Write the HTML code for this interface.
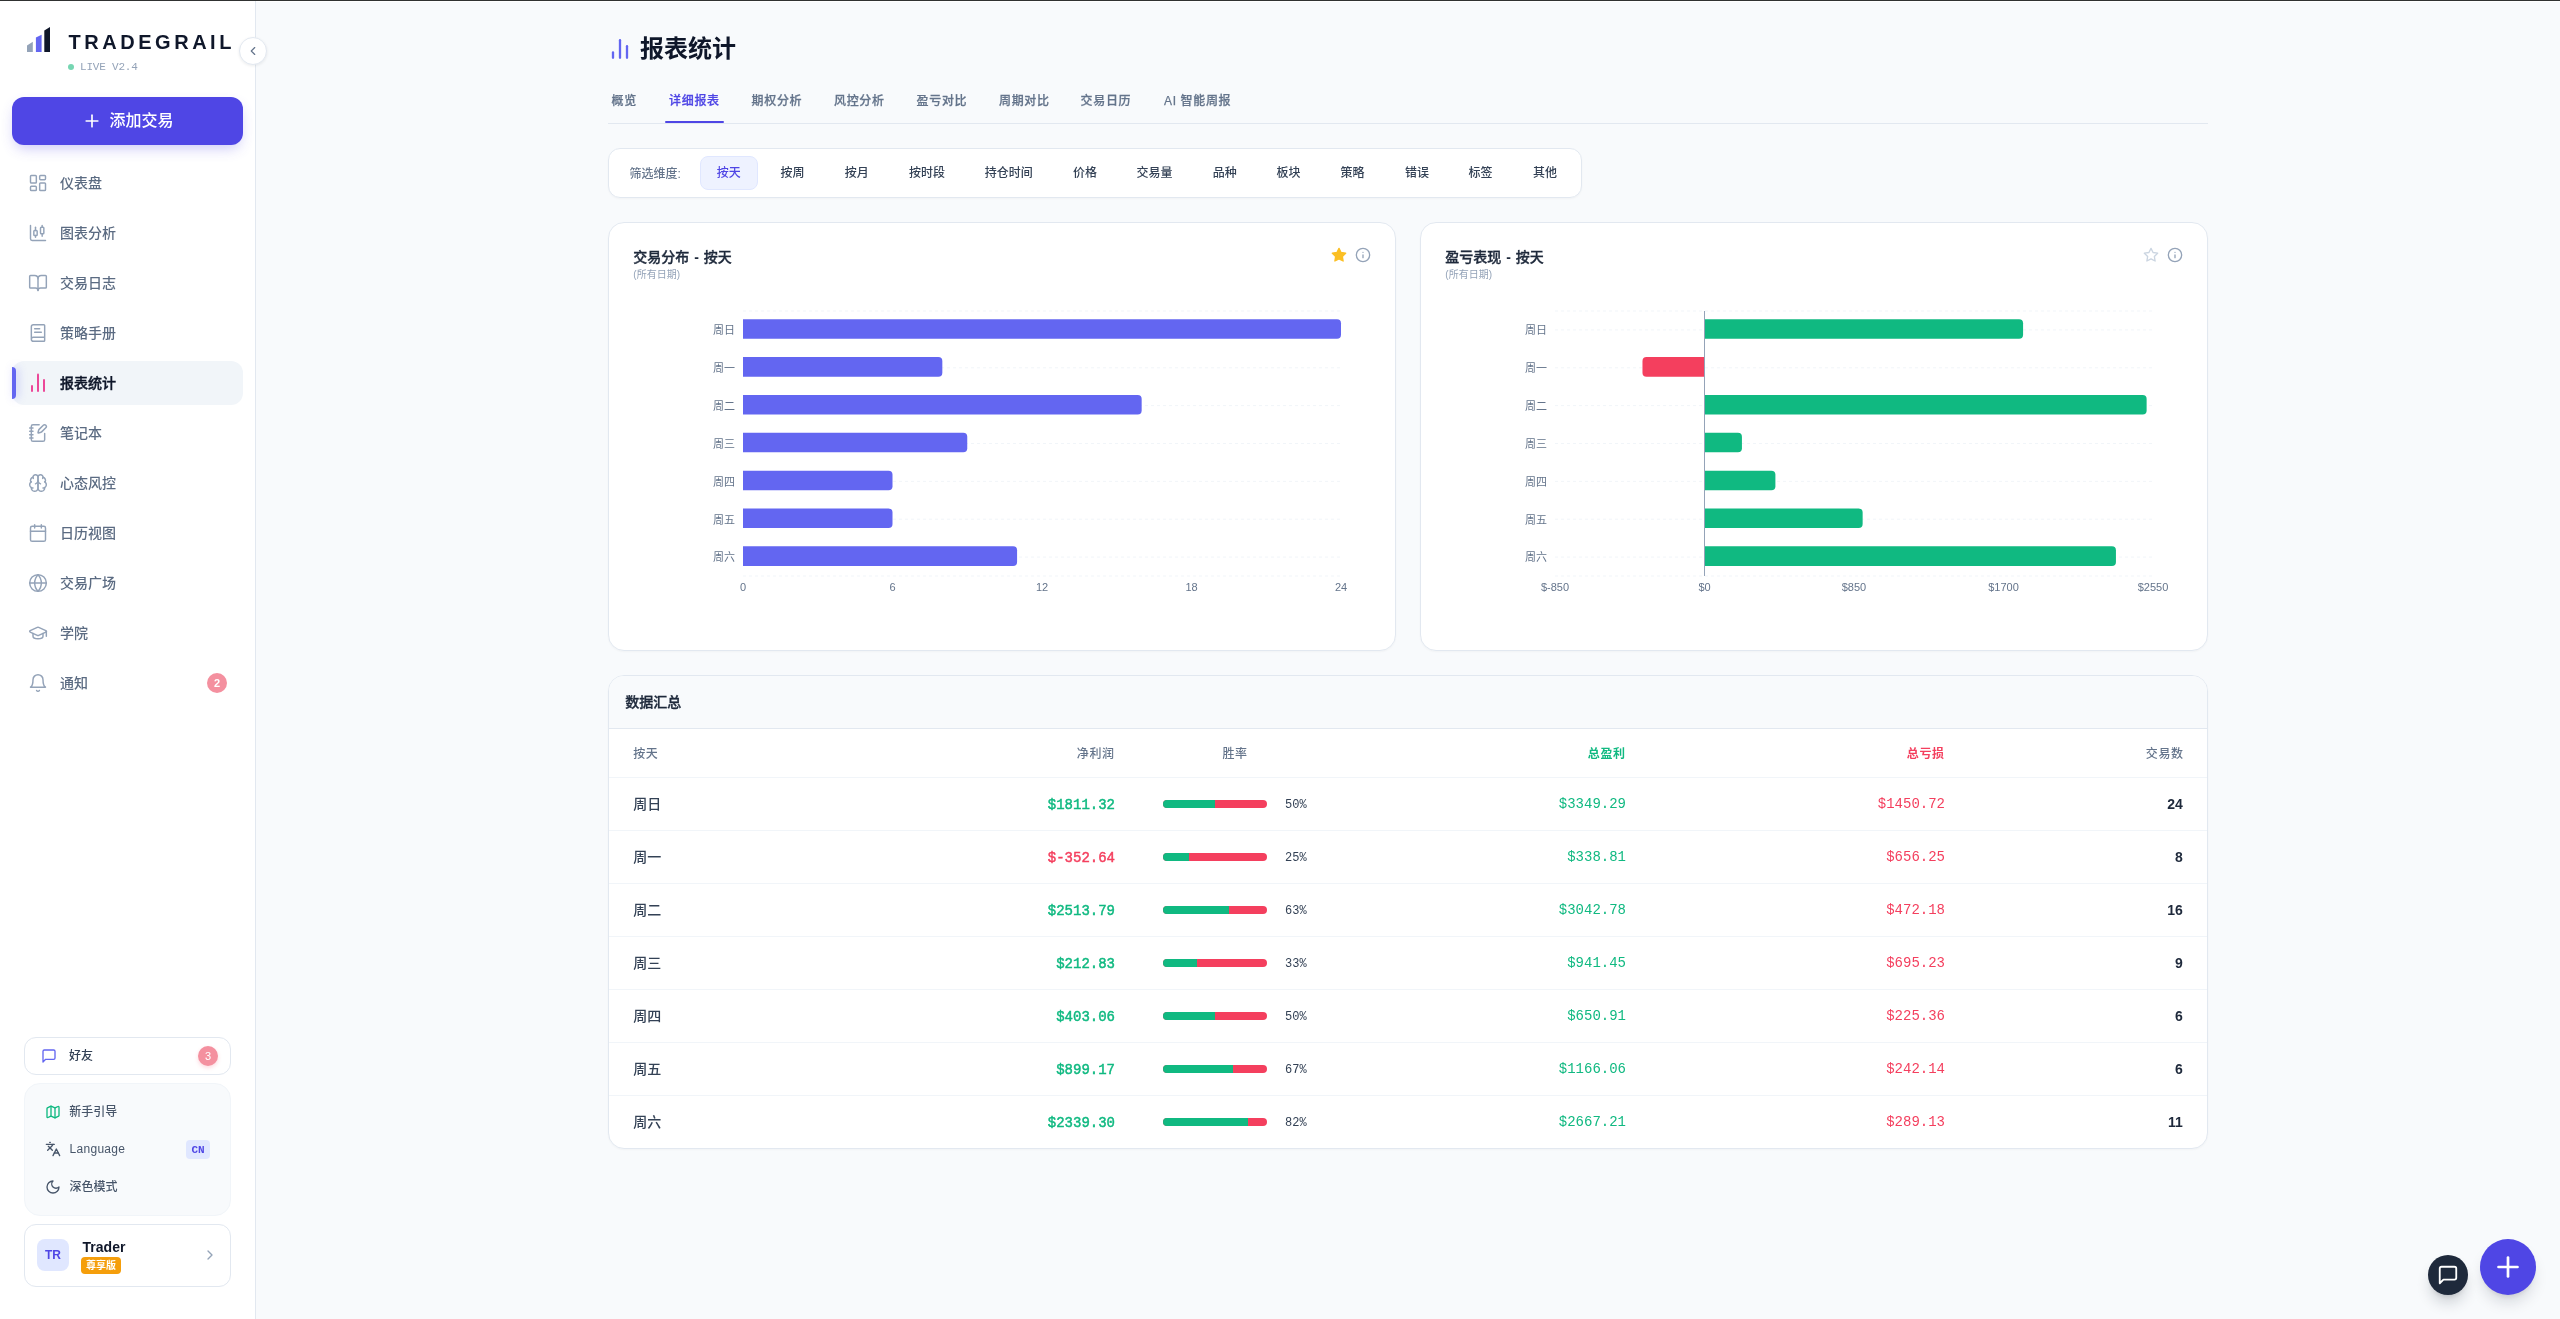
<!DOCTYPE html><html lang="zh-CN"><head><meta charset="utf-8"><title>报表统计 - TradeGrail</title><style>

*{box-sizing:border-box;margin:0;padding:0}
html,body{width:2560px;height:1319px;overflow:hidden}
body{position:relative;background:#f8fafc;font-family:'Liberation Sans','Noto Sans CJK SC',sans-serif;-webkit-font-smoothing:antialiased}
.t{position:absolute;white-space:nowrap}
svg{display:block}

</style></head><body><div id="root" style="position:absolute;left:0;top:0;width:2560px;height:1319px;will-change:transform">
<div style="position:absolute;left:0px;top:0px;width:256px;height:1319px;background:#fff;border-right:1px solid #e2e8f0;"></div>
<svg style="position:absolute;left:0;top:0" width="60" height="60"><polygon points="27,45.4 32.8,41.8 32.8,52 27,52" fill="#94a3b8"/><polygon points="35.9,37.5 41.6,34.7 41.6,52 35.9,52" fill="#6366f1"/><polygon points="44.3,30.4 50,27 50,52 44.3,52" fill="#0f172a"/></svg>
<div class="t" style="top:29.90px;font-size:20px;line-height:24px;color:#0f172a;font-weight:700;font-family:'Liberation Sans','Noto Sans CJK SC',sans-serif;left:68.40px;letter-spacing:3.55px;">TRADEGRAIL</div>
<div style="position:absolute;left:68px;top:64px;width:6px;height:6px;border-radius:50%;background:#76d6b2;"></div>
<div class="t" style="top:60.30px;font-size:11px;line-height:14px;color:#94a3b8;font-weight:400;font-family:'Liberation Mono','DejaVu Sans Mono',monospace;left:80.00px;letter-spacing:-0.2px;">LIVE V2.4</div>
<div style="position:absolute;left:239px;top:37px;width:28px;height:28px;border-radius:50%;background:#fff;border:1px solid #e2e8f0;box-shadow:0 1px 3px rgba(15,23,42,.08);"></div>
<svg style="position:absolute;left:246px;top:44px;" width="14" height="14" viewBox="0 0 24 24" fill="none" stroke="#64748b" stroke-width="2" stroke-linecap="round" stroke-linejoin="round"><path d="m15 18-6-6 6-6"/></svg>
<div style="position:absolute;left:12px;top:97px;width:231px;height:48px;border-radius:12px;background:#4f46e5;box-shadow:0 6px 14px -3px rgba(79,70,229,.30);"></div>
<svg style="position:absolute;left:82px;top:111px;" width="20" height="20" viewBox="0 0 24 24" fill="none" stroke="#fff" stroke-width="2" stroke-linecap="round" stroke-linejoin="round"><path d="M5 12h14"/><path d="M12 5v14"/></svg>
<div class="t" style="top:109.00px;font-size:16px;line-height:24px;color:#fff;font-weight:500;font-family:'Liberation Sans','Noto Sans CJK SC',sans-serif;left:109.50px;">添加交易</div>
<svg style="position:absolute;left:28px;top:173px;" width="20" height="20" viewBox="0 0 24 24" fill="none" stroke="#94a3b8" stroke-width="1.75" stroke-linecap="round" stroke-linejoin="round"><rect width="7" height="9" x="3" y="3" rx="1"/><rect width="7" height="5" x="14" y="3" rx="1"/><rect width="7" height="9" x="14" y="12" rx="1"/><rect width="7" height="5" x="3" y="16" rx="1"/></svg>
<div class="t" style="top:173.00px;font-size:14px;line-height:20px;color:#5b6b82;font-weight:500;font-family:'Liberation Sans','Noto Sans CJK SC',sans-serif;left:60.00px;">仪表盘</div>
<svg style="position:absolute;left:28px;top:223px;" width="20" height="20" viewBox="0 0 24 24" fill="none" stroke="#94a3b8" stroke-width="1.75" stroke-linecap="round" stroke-linejoin="round"><path d="M9 5v4"/><rect width="4" height="6" x="7" y="9" rx="1"/><path d="M9 15v2"/><path d="M17 3v2"/><rect width="4" height="8" x="15" y="5" rx="1"/><path d="M17 13v3"/><path d="M3 3v16a2 2 0 0 0 2 2h16"/></svg>
<div class="t" style="top:223.00px;font-size:14px;line-height:20px;color:#5b6b82;font-weight:500;font-family:'Liberation Sans','Noto Sans CJK SC',sans-serif;left:60.00px;">图表分析</div>
<svg style="position:absolute;left:28px;top:273px;" width="20" height="20" viewBox="0 0 24 24" fill="none" stroke="#94a3b8" stroke-width="1.75" stroke-linecap="round" stroke-linejoin="round"><path d="M12 7v14"/><path d="M3 18a1 1 0 0 1-1-1V4a1 1 0 0 1 1-1h5a4 4 0 0 1 4 4 4 4 0 0 1 4-4h5a1 1 0 0 1 1 1v13a1 1 0 0 1-1 1h-6a3 3 0 0 0-3 3 3 3 0 0 0-3-3z"/></svg>
<div class="t" style="top:273.00px;font-size:14px;line-height:20px;color:#5b6b82;font-weight:500;font-family:'Liberation Sans','Noto Sans CJK SC',sans-serif;left:60.00px;">交易日志</div>
<svg style="position:absolute;left:28px;top:323px;" width="20" height="20" viewBox="0 0 24 24" fill="none" stroke="#94a3b8" stroke-width="1.75" stroke-linecap="round" stroke-linejoin="round"><path d="M4 19.5v-15A2.5 2.5 0 0 1 6.5 2H19a1 1 0 0 1 1 1v18a1 1 0 0 1-1 1H6.5a1 1 0 0 1 0-5H20"/><path d="M8 11h8"/><path d="M8 7h6"/></svg>
<div class="t" style="top:323.00px;font-size:14px;line-height:20px;color:#5b6b82;font-weight:500;font-family:'Liberation Sans','Noto Sans CJK SC',sans-serif;left:60.00px;">策略手册</div>
<div style="position:absolute;left:12px;top:361px;width:231px;height:44px;border-radius:12px;background:#f1f5f9;"></div>
<div style="position:absolute;left:12px;top:367px;width:4px;height:32px;border-radius:0 4px 4px 0;background:#6366f1;box-shadow:2px 0 8px rgba(99,102,241,.35);"></div>
<svg style="position:absolute;left:26px;top:371px" width="24" height="24" viewBox="0 0 24 24" fill="none" stroke="#ec4899" stroke-width="2" stroke-linecap="round"><path d="M6 20v-5"/><path d="M12 20V3.5"/><path d="M18 20v-10.9"/></svg>
<div class="t" style="top:373.00px;font-size:14px;line-height:20px;color:#0f172a;font-weight:500;font-family:'Liberation Sans','Noto Sans CJK SC',sans-serif;left:60.00px;-webkit-text-stroke:0.4px #0f172a;">报表统计</div>
<svg style="position:absolute;left:28px;top:423px;" width="20" height="20" viewBox="0 0 24 24" fill="none" stroke="#94a3b8" stroke-width="1.75" stroke-linecap="round" stroke-linejoin="round"><path d="M13.4 2H6a2 2 0 0 0-2 2v16a2 2 0 0 0 2 2h12a2 2 0 0 0 2-2v-7.4"/><path d="M2 6h4"/><path d="M2 10h4"/><path d="M2 14h4"/><path d="M2 18h4"/><path d="M21.378 5.626a1 1 0 1 0-3.004-3.004l-5.01 5.012a2 2 0 0 0-.506.854l-.837 2.87a.5.5 0 0 0 .62.62l2.87-.837a2 2 0 0 0 .854-.506z"/></svg>
<div class="t" style="top:423.00px;font-size:14px;line-height:20px;color:#5b6b82;font-weight:500;font-family:'Liberation Sans','Noto Sans CJK SC',sans-serif;left:60.00px;">笔记本</div>
<svg style="position:absolute;left:28px;top:473px;" width="20" height="20" viewBox="0 0 24 24" fill="none" stroke="#94a3b8" stroke-width="1.75" stroke-linecap="round" stroke-linejoin="round"><path d="M12 5a3 3 0 1 0-5.997.125 4 4 0 0 0-2.526 5.77 4 4 0 0 0 .556 6.588A4 4 0 1 0 12 18Z"/><path d="M12 5a3 3 0 1 1 5.997.125 4 4 0 0 1 2.526 5.77 4 4 0 0 1-.556 6.588A4 4 0 1 1 12 18Z"/><path d="M15 13a4.5 4.5 0 0 1-3-4 4.5 4.5 0 0 1-3 4"/><path d="M17.599 6.5a3 3 0 0 0 .399-1.375"/><path d="M6.003 5.125A3 3 0 0 0 6.401 6.5"/><path d="M3.477 10.896a4 4 0 0 1 .585-.396"/><path d="M19.938 10.5a4 4 0 0 1 .585.396"/><path d="M6 18a4 4 0 0 1-1.967-.516"/><path d="M19.967 17.484A4 4 0 0 1 18 18"/></svg>
<div class="t" style="top:473.00px;font-size:14px;line-height:20px;color:#5b6b82;font-weight:500;font-family:'Liberation Sans','Noto Sans CJK SC',sans-serif;left:60.00px;">心态风控</div>
<svg style="position:absolute;left:28px;top:523px;" width="20" height="20" viewBox="0 0 24 24" fill="none" stroke="#94a3b8" stroke-width="1.75" stroke-linecap="round" stroke-linejoin="round"><path d="M8 2v4"/><path d="M16 2v4"/><rect width="18" height="18" x="3" y="4" rx="2"/><path d="M3 10h18"/></svg>
<div class="t" style="top:523.00px;font-size:14px;line-height:20px;color:#5b6b82;font-weight:500;font-family:'Liberation Sans','Noto Sans CJK SC',sans-serif;left:60.00px;">日历视图</div>
<svg style="position:absolute;left:28px;top:573px;" width="20" height="20" viewBox="0 0 24 24" fill="none" stroke="#94a3b8" stroke-width="1.75" stroke-linecap="round" stroke-linejoin="round"><circle cx="12" cy="12" r="10"/><path d="M12 2a14.5 14.5 0 0 0 0 20 14.5 14.5 0 0 0 0-20"/><path d="M2 12h20"/></svg>
<div class="t" style="top:573.00px;font-size:14px;line-height:20px;color:#5b6b82;font-weight:500;font-family:'Liberation Sans','Noto Sans CJK SC',sans-serif;left:60.00px;">交易广场</div>
<svg style="position:absolute;left:28px;top:623px;" width="20" height="20" viewBox="0 0 24 24" fill="none" stroke="#94a3b8" stroke-width="1.75" stroke-linecap="round" stroke-linejoin="round"><path d="M21.42 10.922a1 1 0 0 0-.019-1.838L12.83 5.18a2 2 0 0 0-1.66 0L2.6 9.08a1 1 0 0 0 0 1.832l8.57 3.908a2 2 0 0 0 1.66 0z"/><path d="M22 10v6"/><path d="M6 12.5V16a6 3 0 0 0 12 0v-3.5"/></svg>
<div class="t" style="top:623.00px;font-size:14px;line-height:20px;color:#5b6b82;font-weight:500;font-family:'Liberation Sans','Noto Sans CJK SC',sans-serif;left:60.00px;">学院</div>
<svg style="position:absolute;left:28px;top:673px;" width="20" height="20" viewBox="0 0 24 24" fill="none" stroke="#94a3b8" stroke-width="1.75" stroke-linecap="round" stroke-linejoin="round"><path d="M6 8a6 6 0 0 1 12 0c0 7 3 9 3 9H3s3-2 3-9"/><path d="M10.3 21a1.94 1.94 0 0 0 3.4 0"/></svg>
<div class="t" style="top:673.00px;font-size:14px;line-height:20px;color:#5b6b82;font-weight:500;font-family:'Liberation Sans','Noto Sans CJK SC',sans-serif;left:60.00px;">通知</div>
<div style="position:absolute;left:207px;top:673px;width:20px;height:20px;border-radius:50%;background:#f4909f;"></div>
<div class="t" style="top:676.00px;font-size:11px;line-height:14px;color:#fff;font-weight:700;font-family:'Liberation Sans','Noto Sans CJK SC',sans-serif;left:207.00px;width:20px;text-align:center;">2</div>
<div style="position:absolute;left:24px;top:1037px;width:207px;height:38px;border-radius:12px;background:#fff;border:1px solid #e2e8f0;"></div>
<svg style="position:absolute;left:40.5px;top:1048px;" width="16" height="16" viewBox="0 0 24 24" fill="none" stroke="#6366f1" stroke-width="2" stroke-linecap="round" stroke-linejoin="round"><path d="M21 15a2 2 0 0 1-2 2H7l-4 4V5a2 2 0 0 1 2-2h14a2 2 0 0 1 2 2z"/></svg>
<div class="t" style="top:1047.60px;font-size:12px;line-height:16px;color:#334155;font-weight:500;font-family:'Liberation Sans','Noto Sans CJK SC',sans-serif;left:69.00px;">好友</div>
<div style="position:absolute;left:198px;top:1046px;width:20px;height:20px;border-radius:50%;background:#f4909f;box-shadow:0 2px 4px rgba(244,63,94,.2);"></div>
<div class="t" style="top:1049.00px;font-size:11px;line-height:14px;color:#fff;font-weight:400;font-family:'Liberation Sans','Noto Sans CJK SC',sans-serif;left:198.00px;width:20px;text-align:center;">3</div>
<div style="position:absolute;left:24px;top:1083px;width:207px;height:133px;border-radius:16px;background:#f8fafc;border:1px solid #f1f5f9;"></div>
<svg style="position:absolute;left:45px;top:1104px;" width="16" height="16" viewBox="0 0 24 24" fill="none" stroke="#10b981" stroke-width="2" stroke-linecap="round" stroke-linejoin="round"><path d="M14.106 5.553a2 2 0 0 0 1.788 0l3.659-1.83A1 1 0 0 1 21 4.619v12.764a1 1 0 0 1-.553.894l-4.553 2.277a2 2 0 0 1-1.788 0l-4.212-2.106a2 2 0 0 0-1.788 0l-3.659 1.83A1 1 0 0 1 3 19.381V6.618a1 1 0 0 1 .553-.894l4.553-2.277a2 2 0 0 1 1.788 0z"/><path d="M15 5.764v15"/><path d="M9 3.236v15"/></svg>
<div class="t" style="top:1103.70px;font-size:12px;line-height:16px;color:#475569;font-weight:500;font-family:'Liberation Sans','Noto Sans CJK SC',sans-serif;left:69.30px;">新手引导</div>
<svg style="position:absolute;left:45px;top:1141px;" width="16" height="16" viewBox="0 0 24 24" fill="none" stroke="#475569" stroke-width="2" stroke-linecap="round" stroke-linejoin="round"><path d="m5 8 6 6"/><path d="m4 14 6-6 2-3"/><path d="M2 5h12"/><path d="M7 2h1"/><path d="m22 22-5-10-5 10"/><path d="M14 18h6"/></svg>
<div class="t" style="top:1141.00px;font-size:12px;line-height:16px;color:#475569;font-weight:500;font-family:'Liberation Sans','Noto Sans CJK SC',sans-serif;left:69.50px;letter-spacing:0.3px;">Language</div>
<div style="position:absolute;left:186px;top:1140px;width:24px;height:19px;border-radius:4px;background:#e0e7ff;"></div>
<div class="t" style="top:1144.30px;font-size:11px;line-height:12px;color:#4f46e5;font-weight:700;font-family:'Liberation Mono','DejaVu Sans Mono',monospace;left:186.00px;width:24px;text-align:center;">CN</div>
<svg style="position:absolute;left:45px;top:1179px;" width="16" height="16" viewBox="0 0 24 24" fill="none" stroke="#475569" stroke-width="2" stroke-linecap="round" stroke-linejoin="round"><path d="M12 3a6 6 0 0 0 9 9 9 9 0 1 1-9-9Z"/></svg>
<div class="t" style="top:1179.00px;font-size:12px;line-height:16px;color:#475569;font-weight:500;font-family:'Liberation Sans','Noto Sans CJK SC',sans-serif;left:69.50px;">深色模式</div>
<div style="position:absolute;left:24px;top:1224px;width:207px;height:63px;border-radius:12px;background:#fff;border:1px solid #e2e8f0;"></div>
<div style="position:absolute;left:37px;top:1239px;width:32px;height:32px;border-radius:8px;background:#e0e7ff;"></div>
<div class="t" style="top:1247.00px;font-size:12px;line-height:16px;color:#4f46e5;font-weight:700;font-family:'Liberation Sans','Noto Sans CJK SC',sans-serif;left:37.00px;width:32px;text-align:center;">TR</div>
<div class="t" style="top:1238.40px;font-size:14px;line-height:18px;color:#0f172a;font-weight:700;font-family:'Liberation Sans','Noto Sans CJK SC',sans-serif;left:82.60px;">Trader</div>
<div style="position:absolute;left:81px;top:1257px;width:40px;height:17px;border-radius:4px;background:#f59e0b;"></div>
<div class="t" style="top:1259.50px;font-size:10px;line-height:12px;color:#fff;font-weight:700;font-family:'Liberation Sans','Noto Sans CJK SC',sans-serif;left:81.00px;width:40px;text-align:center;">尊享版</div>
<svg style="position:absolute;left:202px;top:1247px;" width="16" height="16" viewBox="0 0 24 24" fill="none" stroke="#94a3b8" stroke-width="2" stroke-linecap="round" stroke-linejoin="round"><path d="m9 18 6-6-6-6"/></svg>
<div style="position:absolute;left:256px;top:1px;width:2304px;height:1px;background:#fff;"></div>
<svg style="position:absolute;left:606px;top:34px" width="30" height="30" fill="none" stroke="#6366f1" stroke-width="2.3" stroke-linecap="round"><path d="M7 18.4v5.4"/><path d="M14 6.2v17.6"/><path d="M21 12.2v11.6"/></svg>
<div class="t" style="top:32.50px;font-size:24px;line-height:32px;color:#0f172a;font-weight:700;font-family:'Liberation Sans','Noto Sans CJK SC',sans-serif;left:640.00px;">报表统计</div>
<div class="t" style="top:92.40px;font-size:12px;line-height:18px;color:#64748b;font-weight:500;font-family:'Liberation Sans','Noto Sans CJK SC',sans-serif;left:611.60px;letter-spacing:0.65px;-webkit-text-stroke:0.25px #64748b;">概览</div>
<div class="t" style="top:92.40px;font-size:12px;line-height:18px;color:#4f46e5;font-weight:500;font-family:'Liberation Sans','Noto Sans CJK SC',sans-serif;left:669.10px;letter-spacing:0.65px;-webkit-text-stroke:0.25px #4f46e5;">详细报表</div>
<div class="t" style="top:92.40px;font-size:12px;line-height:18px;color:#64748b;font-weight:500;font-family:'Liberation Sans','Noto Sans CJK SC',sans-serif;left:751.60px;letter-spacing:0.65px;-webkit-text-stroke:0.25px #64748b;">期权分析</div>
<div class="t" style="top:92.40px;font-size:12px;line-height:18px;color:#64748b;font-weight:500;font-family:'Liberation Sans','Noto Sans CJK SC',sans-serif;left:834.00px;letter-spacing:0.65px;-webkit-text-stroke:0.25px #64748b;">风控分析</div>
<div class="t" style="top:92.40px;font-size:12px;line-height:18px;color:#64748b;font-weight:500;font-family:'Liberation Sans','Noto Sans CJK SC',sans-serif;left:916.60px;letter-spacing:0.65px;-webkit-text-stroke:0.25px #64748b;">盈亏对比</div>
<div class="t" style="top:92.40px;font-size:12px;line-height:18px;color:#64748b;font-weight:500;font-family:'Liberation Sans','Noto Sans CJK SC',sans-serif;left:999.00px;letter-spacing:0.65px;-webkit-text-stroke:0.25px #64748b;">周期对比</div>
<div class="t" style="top:92.40px;font-size:12px;line-height:18px;color:#64748b;font-weight:500;font-family:'Liberation Sans','Noto Sans CJK SC',sans-serif;left:1080.60px;letter-spacing:0.65px;-webkit-text-stroke:0.25px #64748b;">交易日历</div>
<div class="t" style="top:92.40px;font-size:12px;line-height:18px;color:#64748b;font-weight:500;font-family:'Liberation Sans','Noto Sans CJK SC',sans-serif;left:1164.00px;letter-spacing:0.65px;-webkit-text-stroke:0.25px #64748b;">AI 智能周报</div>
<div style="position:absolute;left:608px;top:123px;width:1600px;height:1px;background:#e2e8f0;"></div>
<div style="position:absolute;left:665px;top:121px;width:59px;height:2px;background:#4f46e5;border-radius:1px;"></div>
<div style="position:absolute;left:608px;top:148px;width:974px;height:50px;border-radius:12px;background:#fff;border:1px solid #e2e8f0;box-shadow:0 1px 2px rgba(15,23,42,.03);"></div>
<div class="t" style="top:165.60px;font-size:12px;line-height:16px;color:#64748b;font-weight:500;font-family:'Liberation Sans','Noto Sans CJK SC',sans-serif;left:629.50px;">筛选维度:</div>
<div style="position:absolute;left:700px;top:156px;width:58px;height:34px;border-radius:8px;background:#eef2ff;border:1px solid #e0e7ff;"></div>
<div class="t" style="top:165.00px;font-size:12px;line-height:16px;color:#4f46e5;font-weight:500;font-family:'Liberation Sans','Noto Sans CJK SC',sans-serif;left:716.70px;">按天</div>
<div class="t" style="top:165.00px;font-size:12px;line-height:16px;color:#334155;font-weight:500;font-family:'Liberation Sans','Noto Sans CJK SC',sans-serif;left:780.40px;">按周</div>
<div class="t" style="top:165.00px;font-size:12px;line-height:16px;color:#334155;font-weight:500;font-family:'Liberation Sans','Noto Sans CJK SC',sans-serif;left:844.80px;">按月</div>
<div class="t" style="top:165.00px;font-size:12px;line-height:16px;color:#334155;font-weight:500;font-family:'Liberation Sans','Noto Sans CJK SC',sans-serif;left:908.90px;">按时段</div>
<div class="t" style="top:165.00px;font-size:12px;line-height:16px;color:#334155;font-weight:500;font-family:'Liberation Sans','Noto Sans CJK SC',sans-serif;left:984.70px;">持仓时间</div>
<div class="t" style="top:165.00px;font-size:12px;line-height:16px;color:#334155;font-weight:500;font-family:'Liberation Sans','Noto Sans CJK SC',sans-serif;left:1072.90px;">价格</div>
<div class="t" style="top:165.00px;font-size:12px;line-height:16px;color:#334155;font-weight:500;font-family:'Liberation Sans','Noto Sans CJK SC',sans-serif;left:1136.60px;">交易量</div>
<div class="t" style="top:165.00px;font-size:12px;line-height:16px;color:#334155;font-weight:500;font-family:'Liberation Sans','Noto Sans CJK SC',sans-serif;left:1212.80px;">品种</div>
<div class="t" style="top:165.00px;font-size:12px;line-height:16px;color:#334155;font-weight:500;font-family:'Liberation Sans','Noto Sans CJK SC',sans-serif;left:1276.50px;">板块</div>
<div class="t" style="top:165.00px;font-size:12px;line-height:16px;color:#334155;font-weight:500;font-family:'Liberation Sans','Noto Sans CJK SC',sans-serif;left:1340.50px;">策略</div>
<div class="t" style="top:165.00px;font-size:12px;line-height:16px;color:#334155;font-weight:500;font-family:'Liberation Sans','Noto Sans CJK SC',sans-serif;left:1405.00px;">错误</div>
<div class="t" style="top:165.00px;font-size:12px;line-height:16px;color:#334155;font-weight:500;font-family:'Liberation Sans','Noto Sans CJK SC',sans-serif;left:1468.50px;">标签</div>
<div class="t" style="top:165.00px;font-size:12px;line-height:16px;color:#334155;font-weight:500;font-family:'Liberation Sans','Noto Sans CJK SC',sans-serif;left:1533.10px;">其他</div>
<div style="position:absolute;left:608px;top:222px;width:788px;height:429px;border-radius:16px;background:#fff;border:1px solid #e2e8f0;box-shadow:0 1px 2px rgba(15,23,42,.03);"></div>
<div style="position:absolute;left:1420px;top:222px;width:788px;height:429px;border-radius:16px;background:#fff;border:1px solid #e2e8f0;box-shadow:0 1px 2px rgba(15,23,42,.03);"></div>
<div class="t" style="top:247.30px;font-size:14px;line-height:20px;color:#1e293b;font-weight:500;font-family:'Liberation Sans','Noto Sans CJK SC',sans-serif;left:633.30px;word-spacing:1px;-webkit-text-stroke:0.35px #1e293b;">交易分布 <b style="font-weight:700;-webkit-text-stroke:0">-</b> 按天</div>
<div class="t" style="top:267.70px;font-size:10px;line-height:14px;color:#94a3b8;font-weight:400;font-family:'Liberation Sans','Noto Sans CJK SC',sans-serif;left:633.30px;">(所有日期)</div>
<div class="t" style="top:247.30px;font-size:14px;line-height:20px;color:#1e293b;font-weight:500;font-family:'Liberation Sans','Noto Sans CJK SC',sans-serif;left:1445.30px;word-spacing:1px;-webkit-text-stroke:0.35px #1e293b;">盈亏表现 <b style="font-weight:700;-webkit-text-stroke:0">-</b> 按天</div>
<div class="t" style="top:267.70px;font-size:10px;line-height:14px;color:#94a3b8;font-weight:400;font-family:'Liberation Sans','Noto Sans CJK SC',sans-serif;left:1445.30px;">(所有日期)</div>
<svg style="position:absolute;left:1331px;top:247px;" width="16" height="16" viewBox="0 0 24 24" fill="#fbbf24" stroke="#fbbf24" stroke-width="2" stroke-linecap="round" stroke-linejoin="round"><polygon points="12 2 15.09 8.26 22 9.27 17 14.14 18.18 21.02 12 17.77 5.82 21.02 7 14.14 2 9.27 8.91 8.26 12 2"/></svg>
<svg style="position:absolute;left:1355px;top:247px;" width="16" height="16" viewBox="0 0 24 24" fill="none" stroke="#94a3b8" stroke-width="2" stroke-linecap="round" stroke-linejoin="round"><circle cx="12" cy="12" r="10"/><path d="M12 16v-4"/><path d="M12 8h.01"/></svg>
<svg style="position:absolute;left:2143px;top:247px;" width="16" height="16" viewBox="0 0 24 24" fill="none" stroke="#cbd5e1" stroke-width="2" stroke-linecap="round" stroke-linejoin="round"><polygon points="12 2 15.09 8.26 22 9.27 17 14.14 18.18 21.02 12 17.77 5.82 21.02 7 14.14 2 9.27 8.91 8.26 12 2"/></svg>
<svg style="position:absolute;left:2167px;top:247px;" width="16" height="16" viewBox="0 0 24 24" fill="none" stroke="#94a3b8" stroke-width="2" stroke-linecap="round" stroke-linejoin="round"><circle cx="12" cy="12" r="10"/><path d="M12 16v-4"/><path d="M12 8h.01"/></svg>
<svg style="position:absolute;left:0;top:0" width="2560" height="700" font-family="'Liberation Sans','Noto Sans CJK SC',sans-serif"><line x1="743" x2="1341" y1="311.00" y2="311.00" stroke="#f1f5f9" stroke-dasharray="3 3"/><line x1="743" x2="1341" y1="329.93" y2="329.93" stroke="#f1f5f9" stroke-dasharray="3 3"/><line x1="743" x2="1341" y1="367.79" y2="367.79" stroke="#f1f5f9" stroke-dasharray="3 3"/><line x1="743" x2="1341" y1="405.64" y2="405.64" stroke="#f1f5f9" stroke-dasharray="3 3"/><line x1="743" x2="1341" y1="443.50" y2="443.50" stroke="#f1f5f9" stroke-dasharray="3 3"/><line x1="743" x2="1341" y1="481.36" y2="481.36" stroke="#f1f5f9" stroke-dasharray="3 3"/><line x1="743" x2="1341" y1="519.21" y2="519.21" stroke="#f1f5f9" stroke-dasharray="3 3"/><line x1="743" x2="1341" y1="557.07" y2="557.07" stroke="#f1f5f9" stroke-dasharray="3 3"/><line x1="743" x2="1341" y1="576.00" y2="576.00" stroke="#f1f5f9" stroke-dasharray="3 3"/><text x="735" y="334.23" text-anchor="end" font-size="11" fill="#64748b">周日</text><text x="735" y="372.09" text-anchor="end" font-size="11" fill="#64748b">周一</text><text x="735" y="409.94" text-anchor="end" font-size="11" fill="#64748b">周二</text><text x="735" y="447.80" text-anchor="end" font-size="11" fill="#64748b">周三</text><text x="735" y="485.66" text-anchor="end" font-size="11" fill="#64748b">周四</text><text x="735" y="523.51" text-anchor="end" font-size="11" fill="#64748b">周五</text><text x="735" y="561.37" text-anchor="end" font-size="11" fill="#64748b">周六</text><text x="743" y="591" text-anchor="middle" font-size="11" fill="#64748b">0</text><text x="892.5" y="591" text-anchor="middle" font-size="11" fill="#64748b">6</text><text x="1042.0" y="591" text-anchor="middle" font-size="11" fill="#64748b">12</text><text x="1191.5" y="591" text-anchor="middle" font-size="11" fill="#64748b">18</text><text x="1341" y="591" text-anchor="middle" font-size="11" fill="#64748b">24</text><path d="M743,319.2H1337.0A4,4 0 0 1 1341.0,323.2V334.8A4,4 0 0 1 1337.0,338.8H743Z" fill="#6366f1"/><path d="M743,357.0571428571428H938.3333333333334A4,4 0 0 1 942.3333333333334,361.0571428571428V372.65714285714284A4,4 0 0 1 938.3333333333334,376.65714285714284H743Z" fill="#6366f1"/><path d="M743,394.9142857142857H1137.6666666666667A4,4 0 0 1 1141.6666666666667,398.9142857142857V410.51428571428573A4,4 0 0 1 1137.6666666666667,414.51428571428573H743Z" fill="#6366f1"/><path d="M743,432.77142857142854H963.25A4,4 0 0 1 967.25,436.77142857142854V448.37142857142857A4,4 0 0 1 963.25,452.37142857142857H743Z" fill="#6366f1"/><path d="M743,470.6285714285714H888.5A4,4 0 0 1 892.5,474.6285714285714V486.2285714285714A4,4 0 0 1 888.5,490.2285714285714H743Z" fill="#6366f1"/><path d="M743,508.48571428571427H888.5A4,4 0 0 1 892.5,512.4857142857143V524.0857142857143A4,4 0 0 1 888.5,528.0857142857143H743Z" fill="#6366f1"/><path d="M743,546.3428571428572H1013.0833333333334A4,4 0 0 1 1017.0833333333334,550.3428571428572V561.9428571428572A4,4 0 0 1 1013.0833333333334,565.9428571428572H743Z" fill="#6366f1"/></svg>
<svg style="position:absolute;left:0;top:0" width="2560" height="700" font-family="'Liberation Sans','Noto Sans CJK SC',sans-serif"><line x1="1555" x2="2153" y1="311.00" y2="311.00" stroke="#f1f5f9" stroke-dasharray="3 3"/><line x1="1555" x2="2153" y1="329.93" y2="329.93" stroke="#f1f5f9" stroke-dasharray="3 3"/><line x1="1555" x2="2153" y1="367.79" y2="367.79" stroke="#f1f5f9" stroke-dasharray="3 3"/><line x1="1555" x2="2153" y1="405.64" y2="405.64" stroke="#f1f5f9" stroke-dasharray="3 3"/><line x1="1555" x2="2153" y1="443.50" y2="443.50" stroke="#f1f5f9" stroke-dasharray="3 3"/><line x1="1555" x2="2153" y1="481.36" y2="481.36" stroke="#f1f5f9" stroke-dasharray="3 3"/><line x1="1555" x2="2153" y1="519.21" y2="519.21" stroke="#f1f5f9" stroke-dasharray="3 3"/><line x1="1555" x2="2153" y1="557.07" y2="557.07" stroke="#f1f5f9" stroke-dasharray="3 3"/><line x1="1555" x2="2153" y1="576.00" y2="576.00" stroke="#f1f5f9" stroke-dasharray="3 3"/><text x="1547" y="334.23" text-anchor="end" font-size="11" fill="#64748b">周日</text><text x="1547" y="372.09" text-anchor="end" font-size="11" fill="#64748b">周一</text><text x="1547" y="409.94" text-anchor="end" font-size="11" fill="#64748b">周二</text><text x="1547" y="447.80" text-anchor="end" font-size="11" fill="#64748b">周三</text><text x="1547" y="485.66" text-anchor="end" font-size="11" fill="#64748b">周四</text><text x="1547" y="523.51" text-anchor="end" font-size="11" fill="#64748b">周五</text><text x="1547" y="561.37" text-anchor="end" font-size="11" fill="#64748b">周六</text><text x="1555" y="591" text-anchor="middle" font-size="11" fill="#64748b">$-850</text><text x="1704.5" y="591" text-anchor="middle" font-size="11" fill="#64748b">$0</text><text x="1854" y="591" text-anchor="middle" font-size="11" fill="#64748b">$850</text><text x="2003.5" y="591" text-anchor="middle" font-size="11" fill="#64748b">$1700</text><text x="2153" y="591" text-anchor="middle" font-size="11" fill="#64748b">$2550</text><path d="M1704.5,319.2H2019.0792235294118A4,4 0 0 1 2023.0792235294118,323.2V334.8A4,4 0 0 1 2019.0792235294118,338.8H1704.5Z" fill="#10b981"/><path d="M1704.5,357.0571428571428H1646.4768470588235A4,4 0 0 0 1642.4768470588235,361.0571428571428V372.65714285714284A4,4 0 0 0 1646.4768470588235,376.65714285714284H1704.5Z" fill="#f43f5e"/><path d="M1704.5,394.9142857142857H2142.6313A4,4 0 0 1 2146.6313,398.9142857142857V410.51428571428573A4,4 0 0 1 2142.6313,414.51428571428573H1704.5Z" fill="#10b981"/><path d="M1704.5,432.77142857142854H1737.9330411764706A4,4 0 0 1 1741.9330411764706,436.77142857142854V448.37142857142857A4,4 0 0 1 1737.9330411764706,452.37142857142857H1704.5Z" fill="#10b981"/><path d="M1704.5,470.6285714285714H1771.3911411764707A4,4 0 0 1 1775.3911411764707,474.6285714285714V486.2285714285714A4,4 0 0 1 1771.3911411764707,490.2285714285714H1704.5Z" fill="#10b981"/><path d="M1704.5,508.48571428571427H1858.6481352941175A4,4 0 0 1 1862.6481352941175,512.4857142857143V524.0857142857143A4,4 0 0 1 1858.6481352941175,528.0857142857143H1704.5Z" fill="#10b981"/><path d="M1704.5,546.3428571428572H2111.941588235294A4,4 0 0 1 2115.941588235294,550.3428571428572V561.9428571428572A4,4 0 0 1 2111.941588235294,565.9428571428572H1704.5Z" fill="#10b981"/><line x1="1704.5" x2="1704.5" y1="311.0" y2="576.0" stroke="#94a3b8" stroke-width="1"/></svg>
<div style="position:absolute;left:608px;top:675px;width:1600px;height:474px;border-radius:16px;background:#fff;border:1px solid #e2e8f0;overflow:hidden;box-shadow:0 1px 2px rgba(15,23,42,.03);"></div>
<div style="position:absolute;left:609px;top:676px;width:1598px;height:53px;background:#f8fafc;border-radius:15px 15px 0 0;border-bottom:1px solid #e2e8f0;"></div>
<div class="t" style="top:692.00px;font-size:14px;line-height:20px;color:#1e293b;font-weight:500;font-family:'Liberation Sans','Noto Sans CJK SC',sans-serif;left:625.30px;-webkit-text-stroke:0.35px #1e293b;">数据汇总</div>
<div class="t" style="top:745.60px;font-size:12px;line-height:16px;color:#64748b;font-weight:500;font-family:'Liberation Sans','Noto Sans CJK SC',sans-serif;left:633.20px;letter-spacing:.6px;">按天</div>
<div class="t" style="top:745.60px;font-size:12px;line-height:16px;color:#64748b;font-weight:500;font-family:'Liberation Sans','Noto Sans CJK SC',sans-serif;right:1445.40px;text-align:right;letter-spacing:.6px;">净利润</div>
<div class="t" style="top:745.60px;font-size:12px;line-height:16px;color:#64748b;font-weight:500;font-family:'Liberation Sans','Noto Sans CJK SC',sans-serif;left:1195.00px;width:80px;text-align:center;letter-spacing:.6px;">胜率</div>
<div class="t" style="top:745.60px;font-size:12px;line-height:16px;color:#10b981;font-weight:700;font-family:'Liberation Sans','Noto Sans CJK SC',sans-serif;right:934.40px;text-align:right;letter-spacing:.6px;">总盈利</div>
<div class="t" style="top:745.60px;font-size:12px;line-height:16px;color:#f43f5e;font-weight:700;font-family:'Liberation Sans','Noto Sans CJK SC',sans-serif;right:615.40px;text-align:right;letter-spacing:.6px;">总亏损</div>
<div class="t" style="top:745.60px;font-size:12px;line-height:16px;color:#64748b;font-weight:500;font-family:'Liberation Sans','Noto Sans CJK SC',sans-serif;right:376.40px;text-align:right;letter-spacing:.6px;">交易数</div>
<div style="position:absolute;left:609px;top:777px;width:1598px;height:1px;background:#f1f5f9;"></div>
<div style="position:absolute;left:609px;top:830px;width:1598px;height:1px;background:#f1f5f9;"></div>
<div class="t" style="top:794.40px;font-size:14px;line-height:20px;color:#334155;font-weight:500;font-family:'Liberation Sans','Noto Sans CJK SC',sans-serif;left:633.20px;">周日</div>
<div class="t" style="top:794.50px;font-size:14px;line-height:20px;color:#10b981;font-weight:400;font-family:'Liberation Mono','DejaVu Sans Mono',monospace;right:1445.00px;text-align:right;-webkit-text-stroke:0.45px #10b981;">$1811.32</div>
<div style="position:absolute;left:1163px;top:800px;width:104px;height:8px;border-radius:4px;overflow:hidden;background:#f43f5e"><div style="width:52.0px;height:8px;background:#10b981"></div></div>
<div class="t" style="top:797.20px;font-size:12px;line-height:16px;color:#334155;font-weight:400;font-family:'Liberation Mono','DejaVu Sans Mono',monospace;left:1285.00px;">50%</div>
<div class="t" style="top:794.10px;font-size:14px;line-height:20px;color:#10b981;font-weight:400;font-family:'Liberation Mono','DejaVu Sans Mono',monospace;right:934.00px;text-align:right;">$3349.29</div>
<div class="t" style="top:794.10px;font-size:14px;line-height:20px;color:#f43f5e;font-weight:400;font-family:'Liberation Mono','DejaVu Sans Mono',monospace;right:615.00px;text-align:right;">$1450.72</div>
<div class="t" style="top:794.00px;font-size:14px;line-height:20px;color:#1e293b;font-weight:700;font-family:'Liberation Sans','Noto Sans CJK SC',sans-serif;right:377.20px;text-align:right;">24</div>
<div style="position:absolute;left:609px;top:883px;width:1598px;height:1px;background:#f1f5f9;"></div>
<div class="t" style="top:847.40px;font-size:14px;line-height:20px;color:#334155;font-weight:500;font-family:'Liberation Sans','Noto Sans CJK SC',sans-serif;left:633.20px;">周一</div>
<div class="t" style="top:847.50px;font-size:14px;line-height:20px;color:#f43f5e;font-weight:400;font-family:'Liberation Mono','DejaVu Sans Mono',monospace;right:1445.00px;text-align:right;-webkit-text-stroke:0.45px #f43f5e;">$-352.64</div>
<div style="position:absolute;left:1163px;top:853px;width:104px;height:8px;border-radius:4px;overflow:hidden;background:#f43f5e"><div style="width:26.0px;height:8px;background:#10b981"></div></div>
<div class="t" style="top:850.20px;font-size:12px;line-height:16px;color:#334155;font-weight:400;font-family:'Liberation Mono','DejaVu Sans Mono',monospace;left:1285.00px;">25%</div>
<div class="t" style="top:847.10px;font-size:14px;line-height:20px;color:#10b981;font-weight:400;font-family:'Liberation Mono','DejaVu Sans Mono',monospace;right:934.00px;text-align:right;">$338.81</div>
<div class="t" style="top:847.10px;font-size:14px;line-height:20px;color:#f43f5e;font-weight:400;font-family:'Liberation Mono','DejaVu Sans Mono',monospace;right:615.00px;text-align:right;">$656.25</div>
<div class="t" style="top:847.00px;font-size:14px;line-height:20px;color:#1e293b;font-weight:700;font-family:'Liberation Sans','Noto Sans CJK SC',sans-serif;right:377.20px;text-align:right;">8</div>
<div style="position:absolute;left:609px;top:936px;width:1598px;height:1px;background:#f1f5f9;"></div>
<div class="t" style="top:900.40px;font-size:14px;line-height:20px;color:#334155;font-weight:500;font-family:'Liberation Sans','Noto Sans CJK SC',sans-serif;left:633.20px;">周二</div>
<div class="t" style="top:900.50px;font-size:14px;line-height:20px;color:#10b981;font-weight:400;font-family:'Liberation Mono','DejaVu Sans Mono',monospace;right:1445.00px;text-align:right;-webkit-text-stroke:0.45px #10b981;">$2513.79</div>
<div style="position:absolute;left:1163px;top:906px;width:104px;height:8px;border-radius:4px;overflow:hidden;background:#f43f5e"><div style="width:65.52px;height:8px;background:#10b981"></div></div>
<div class="t" style="top:903.20px;font-size:12px;line-height:16px;color:#334155;font-weight:400;font-family:'Liberation Mono','DejaVu Sans Mono',monospace;left:1285.00px;">63%</div>
<div class="t" style="top:900.10px;font-size:14px;line-height:20px;color:#10b981;font-weight:400;font-family:'Liberation Mono','DejaVu Sans Mono',monospace;right:934.00px;text-align:right;">$3042.78</div>
<div class="t" style="top:900.10px;font-size:14px;line-height:20px;color:#f43f5e;font-weight:400;font-family:'Liberation Mono','DejaVu Sans Mono',monospace;right:615.00px;text-align:right;">$472.18</div>
<div class="t" style="top:900.00px;font-size:14px;line-height:20px;color:#1e293b;font-weight:700;font-family:'Liberation Sans','Noto Sans CJK SC',sans-serif;right:377.20px;text-align:right;">16</div>
<div style="position:absolute;left:609px;top:989px;width:1598px;height:1px;background:#f1f5f9;"></div>
<div class="t" style="top:953.40px;font-size:14px;line-height:20px;color:#334155;font-weight:500;font-family:'Liberation Sans','Noto Sans CJK SC',sans-serif;left:633.20px;">周三</div>
<div class="t" style="top:953.50px;font-size:14px;line-height:20px;color:#10b981;font-weight:400;font-family:'Liberation Mono','DejaVu Sans Mono',monospace;right:1445.00px;text-align:right;-webkit-text-stroke:0.45px #10b981;">$212.83</div>
<div style="position:absolute;left:1163px;top:959px;width:104px;height:8px;border-radius:4px;overflow:hidden;background:#f43f5e"><div style="width:34.32px;height:8px;background:#10b981"></div></div>
<div class="t" style="top:956.20px;font-size:12px;line-height:16px;color:#334155;font-weight:400;font-family:'Liberation Mono','DejaVu Sans Mono',monospace;left:1285.00px;">33%</div>
<div class="t" style="top:953.10px;font-size:14px;line-height:20px;color:#10b981;font-weight:400;font-family:'Liberation Mono','DejaVu Sans Mono',monospace;right:934.00px;text-align:right;">$941.45</div>
<div class="t" style="top:953.10px;font-size:14px;line-height:20px;color:#f43f5e;font-weight:400;font-family:'Liberation Mono','DejaVu Sans Mono',monospace;right:615.00px;text-align:right;">$695.23</div>
<div class="t" style="top:953.00px;font-size:14px;line-height:20px;color:#1e293b;font-weight:700;font-family:'Liberation Sans','Noto Sans CJK SC',sans-serif;right:377.20px;text-align:right;">9</div>
<div style="position:absolute;left:609px;top:1042px;width:1598px;height:1px;background:#f1f5f9;"></div>
<div class="t" style="top:1006.40px;font-size:14px;line-height:20px;color:#334155;font-weight:500;font-family:'Liberation Sans','Noto Sans CJK SC',sans-serif;left:633.20px;">周四</div>
<div class="t" style="top:1006.50px;font-size:14px;line-height:20px;color:#10b981;font-weight:400;font-family:'Liberation Mono','DejaVu Sans Mono',monospace;right:1445.00px;text-align:right;-webkit-text-stroke:0.45px #10b981;">$403.06</div>
<div style="position:absolute;left:1163px;top:1012px;width:104px;height:8px;border-radius:4px;overflow:hidden;background:#f43f5e"><div style="width:52.0px;height:8px;background:#10b981"></div></div>
<div class="t" style="top:1009.20px;font-size:12px;line-height:16px;color:#334155;font-weight:400;font-family:'Liberation Mono','DejaVu Sans Mono',monospace;left:1285.00px;">50%</div>
<div class="t" style="top:1006.10px;font-size:14px;line-height:20px;color:#10b981;font-weight:400;font-family:'Liberation Mono','DejaVu Sans Mono',monospace;right:934.00px;text-align:right;">$650.91</div>
<div class="t" style="top:1006.10px;font-size:14px;line-height:20px;color:#f43f5e;font-weight:400;font-family:'Liberation Mono','DejaVu Sans Mono',monospace;right:615.00px;text-align:right;">$225.36</div>
<div class="t" style="top:1006.00px;font-size:14px;line-height:20px;color:#1e293b;font-weight:700;font-family:'Liberation Sans','Noto Sans CJK SC',sans-serif;right:377.20px;text-align:right;">6</div>
<div style="position:absolute;left:609px;top:1095px;width:1598px;height:1px;background:#f1f5f9;"></div>
<div class="t" style="top:1059.40px;font-size:14px;line-height:20px;color:#334155;font-weight:500;font-family:'Liberation Sans','Noto Sans CJK SC',sans-serif;left:633.20px;">周五</div>
<div class="t" style="top:1059.50px;font-size:14px;line-height:20px;color:#10b981;font-weight:400;font-family:'Liberation Mono','DejaVu Sans Mono',monospace;right:1445.00px;text-align:right;-webkit-text-stroke:0.45px #10b981;">$899.17</div>
<div style="position:absolute;left:1163px;top:1065px;width:104px;height:8px;border-radius:4px;overflow:hidden;background:#f43f5e"><div style="width:69.68px;height:8px;background:#10b981"></div></div>
<div class="t" style="top:1062.20px;font-size:12px;line-height:16px;color:#334155;font-weight:400;font-family:'Liberation Mono','DejaVu Sans Mono',monospace;left:1285.00px;">67%</div>
<div class="t" style="top:1059.10px;font-size:14px;line-height:20px;color:#10b981;font-weight:400;font-family:'Liberation Mono','DejaVu Sans Mono',monospace;right:934.00px;text-align:right;">$1166.06</div>
<div class="t" style="top:1059.10px;font-size:14px;line-height:20px;color:#f43f5e;font-weight:400;font-family:'Liberation Mono','DejaVu Sans Mono',monospace;right:615.00px;text-align:right;">$242.14</div>
<div class="t" style="top:1059.00px;font-size:14px;line-height:20px;color:#1e293b;font-weight:700;font-family:'Liberation Sans','Noto Sans CJK SC',sans-serif;right:377.20px;text-align:right;">6</div>
<div class="t" style="top:1112.40px;font-size:14px;line-height:20px;color:#334155;font-weight:500;font-family:'Liberation Sans','Noto Sans CJK SC',sans-serif;left:633.20px;">周六</div>
<div class="t" style="top:1112.50px;font-size:14px;line-height:20px;color:#10b981;font-weight:400;font-family:'Liberation Mono','DejaVu Sans Mono',monospace;right:1445.00px;text-align:right;-webkit-text-stroke:0.45px #10b981;">$2339.30</div>
<div style="position:absolute;left:1163px;top:1118px;width:104px;height:8px;border-radius:4px;overflow:hidden;background:#f43f5e"><div style="width:85.28px;height:8px;background:#10b981"></div></div>
<div class="t" style="top:1115.20px;font-size:12px;line-height:16px;color:#334155;font-weight:400;font-family:'Liberation Mono','DejaVu Sans Mono',monospace;left:1285.00px;">82%</div>
<div class="t" style="top:1112.10px;font-size:14px;line-height:20px;color:#10b981;font-weight:400;font-family:'Liberation Mono','DejaVu Sans Mono',monospace;right:934.00px;text-align:right;">$2667.21</div>
<div class="t" style="top:1112.10px;font-size:14px;line-height:20px;color:#f43f5e;font-weight:400;font-family:'Liberation Mono','DejaVu Sans Mono',monospace;right:615.00px;text-align:right;">$289.13</div>
<div class="t" style="top:1112.00px;font-size:14px;line-height:20px;color:#1e293b;font-weight:700;font-family:'Liberation Sans','Noto Sans CJK SC',sans-serif;right:377.20px;text-align:right;">11</div>
<div style="position:absolute;left:2428px;top:1255px;width:40px;height:40px;border-radius:50%;background:#1e293b;box-shadow:0 10px 15px -3px rgba(15,23,42,.2),0 4px 6px -4px rgba(15,23,42,.2);"></div>
<svg style="position:absolute;left:2437px;top:1264px;" width="22" height="22" viewBox="0 0 24 24" fill="none" stroke="#fff" stroke-width="2" stroke-linecap="round" stroke-linejoin="round"><path d="M21 15a2 2 0 0 1-2 2H7l-4 4V5a2 2 0 0 1 2-2h14a2 2 0 0 1 2 2z"/></svg>
<div style="position:absolute;left:2480px;top:1239px;width:56px;height:56px;border-radius:50%;background:#4f46e5;box-shadow:0 10px 15px -3px rgba(15,23,42,.15),0 4px 6px -4px rgba(15,23,42,.15);"></div>
<svg style="position:absolute;left:2492px;top:1251px" width="32" height="32" fill="none" stroke="#fff" stroke-width="2.7" stroke-linecap="round"><path d="M6.5 16h19"/><path d="M16 6.5v19"/></svg>
<div style="position:absolute;left:0px;top:0px;width:2560px;height:1px;background:#303231;"></div>
</div></body></html>
